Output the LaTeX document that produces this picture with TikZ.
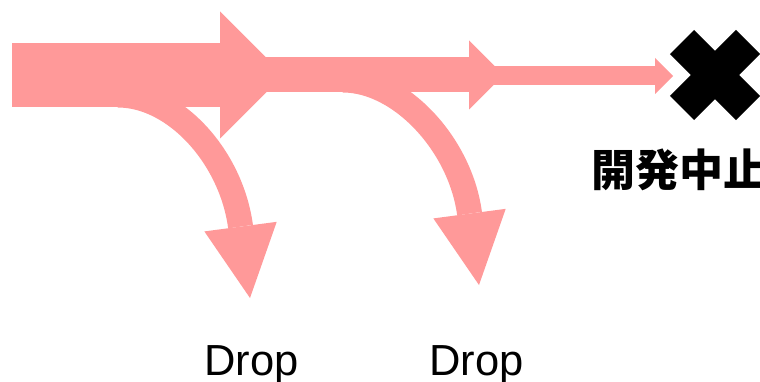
\documentclass[tikz,border=0pt]{standalone}
\usepackage{fontspec}
\setmainfont{Liberation Sans}
\newfontfamily\jpfont{Noto Sans CJK JP}
\usetikzlibrary{arrows.meta}
\definecolor{flowpink}{RGB}{255,153,153}
\tikzset{
    droptext/.style={anchor=base, inner sep=0pt, font=\fontsize{43.5}{44}\selectfont},
    stoptext/.style={anchor=base west, inner sep=0pt, font=\jpfont\bfseries\fontsize{44}{44}\selectfont},
    stopbox/.style={minimum size=66pt, inner sep=0pt, outer sep=0pt},
    stopbar/.style={draw=black, line width=34pt},
}
% #1 = band width, #2/#3 = head length/width (all in pt)
\newcommand{\flowarrow}[3]{\draw[flowpink, line width=#1pt, -{Triangle[length=#2pt, width=#3pt, line width=0pt]}]}

\begin{document}
\begin{tikzpicture}[x=1pt, y=-1pt]
    \clip (0,0) rectangle (760,382);

    % Points along the flow
    \coordinate (in) at (12,75);
    \coordinate (out1) at (283.5,75);
    \coordinate (split1) at (118,95);
    \coordinate (mid1) at (240,75);
    \coordinate (out2) at (503.5,75);
    \coordinate (split2) at (343,80);
    \coordinate (mid2) at (480,76);
    \coordinate (drop1) at (250,298);
    \coordinate (drop2) at (479,285);

    % Stop mark
    \node[stopbox] (stop) at (715,75) {};
    \draw[stopbar] (stop.north west) -- (stop.south east);
    \draw[stopbar] (stop.south west) -- (stop.north east);
    \node[stoptext] (stoplabel) at (591,187) {開発中止};

    % Main flow, getting thinner
    \flowarrow{64}{63.5}{127} (in) -- (out1);
    \flowarrow{35}{34.5}{69} (mid1) -- (out2);
    \flowarrow{19}{18}{36} (mid2) -- (stop.west |- mid2) [shorten >=9pt];

    % Drops
    \flowarrow{25}{72}{73} (split1) .. controls (175,95) and (231.3,157) .. (drop1);
    \flowarrow{25}{72}{73} (split2) .. controls (400,80) and (460.3,144) .. (drop2);

    \node[droptext] (droplabel1) at (251.5,375.5) {Drop};
    \node[droptext] (droplabel2) at (476.5,375.5) {Drop};
\end{tikzpicture}
\end{document}
